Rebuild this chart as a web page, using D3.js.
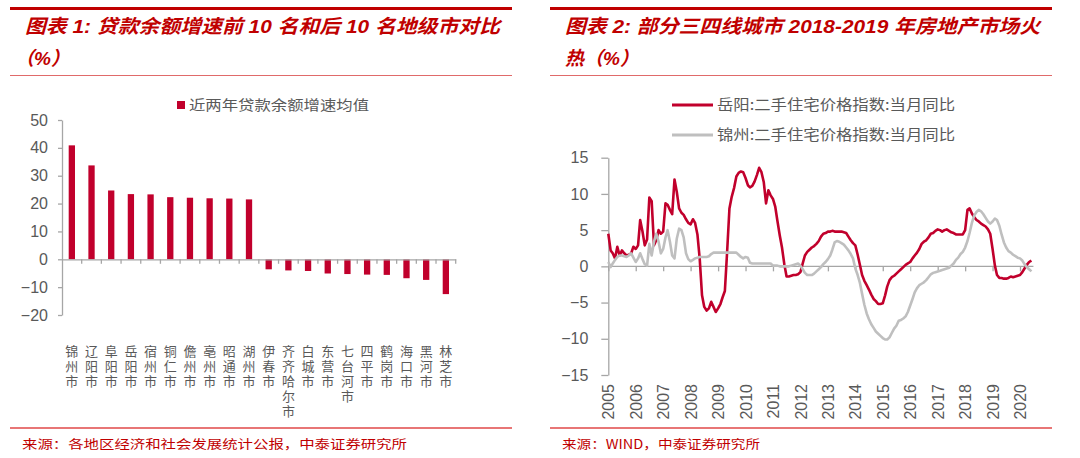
<!DOCTYPE html>
<html><head><meta charset="utf-8">
<script src="https://cdn.jsdelivr.net/npm/d3@7"></script>
<style>
html,body{margin:0;padding:0;background:#fff;}
svg{display:block;}
.vert{writing-mode:vertical-rl;text-orientation:upright;}
</style></head>
<body>
<svg id="chart" width="1080" height="458"></svg>
<script>
// ---------- data ----------
const cities = ["锦州市","辽阳市","阜阳市","岳阳市","宿州市","铜仁市","儋州市","亳州市","昭通市","湖州市",
  "伊春市","齐齐哈尔市","白城市","东营市","七台河市","四平市","鹤岗市","海口市","黑河市","林芝市"];
const loanGrowth = [40.9,33.7,24.7,23.4,23.3,22.3,22.1,21.9,21.8,21.5,
  -3.6,-4.0,-4.2,-5.1,-5.3,-5.5,-5.6,-6.8,-7.4,-12.5];
const leftTicks = [-20,-10,0,10,20,30,40,50];
const leftLegend = "近两年贷款余额增速均值";

const seriesStart = [2005, 0]; // Jan 2005, monthly
const yueyang = [
  4.5,2.2,1.8,1.1,2.7,1.5,2.2,1.8,1.5,1.6,1.8,2.7,
  2.4,2.9,6.4,4.8,2.9,3.7,9.5,9.0,2.9,3.6,5.0,4.5,
  4.8,8.7,8.5,7.8,7.2,12.0,10.3,8.0,7.4,7.1,6.5,6.0,
  5.8,6.5,6.0,4.4,1.1,-4.0,-5.6,-6.1,-5.8,-4.9,-5.6,-6.3,
  -5.8,-5.2,-4.3,-3.4,2.0,8.0,9.6,10.8,12.4,12.9,13.1,13.0,
  12.2,11.2,10.9,11.1,11.7,12.6,13.6,13.0,11.6,8.7,10.5,9.8,
  9.3,8.2,6.3,4.3,2.6,0.3,-1.4,-1.4,-1.3,-1.2,-1.2,-1.1,
  -0.8,0.4,1.5,2.0,2.3,2.6,2.8,3.1,3.5,4.1,4.5,4.6,
  4.8,4.8,4.9,4.8,4.8,4.8,4.8,4.7,4.6,4.1,3.6,3.2,
  2.9,1.6,0.3,-1.2,-2.0,-2.6,-3.2,-3.9,-4.5,-4.8,-5.2,-5.2,
  -5.1,-4.0,-2.8,-1.9,-1.5,-1.3,-1.0,-0.7,-0.4,-0.1,0.2,0.4,
  0.6,1.1,1.5,1.9,2.4,3.1,3.4,3.6,4.0,4.5,4.6,4.9,
  5.1,5.0,4.8,5.0,5.1,4.9,4.7,4.6,4.4,4.4,4.4,4.4,
  5.0,7.8,8.0,7.3,6.8,6.4,6.2,5.9,5.7,5.5,5.1,4.5,
  2.4,0.1,-1.2,-1.6,-1.6,-1.7,-1.7,-1.6,-1.4,-1.5,-1.4,-1.3,
  -1.2,-0.8,-0.3,0.2,0.6,0.8
];
const jinzhou = [
  0.6,-0.1,0.4,0.9,1.3,1.5,1.5,1.4,1.3,1.5,1.8,1.2,
  0.6,1.1,1.8,1.0,0.3,0.1,3.1,1.5,3.4,4.5,3.4,1.8,
  2.4,4.0,5.0,3.4,1.5,1.1,3.8,5.2,5.0,4.0,1.8,1.0,
  0.7,0.9,1.1,1.2,1.3,1.3,1.3,1.3,1.4,1.7,1.9,1.9,
  1.9,1.9,1.9,1.9,1.9,1.9,1.9,1.9,1.9,1.6,1.3,1.1,
  1.3,1.2,0.5,0.4,0.4,0.4,0.4,0.4,0.4,0.4,0.4,0.4,
  0.1,0.1,0.1,0.0,0.0,0.0,0.0,0.0,0.1,0.2,0.3,0.4,
  0.1,-0.4,-0.9,-1.2,-1.2,-1.2,-1.0,-0.7,-0.4,-0.1,0.3,0.6,
  1.0,1.5,2.3,3.3,3.5,3.4,3.2,3.0,2.6,2.2,1.7,1.1,
  -0.3,-1.2,-2.2,-3.8,-5.3,-6.5,-7.3,-8.0,-8.5,-9.0,-9.3,-9.6,
  -9.9,-10.1,-10.1,-9.8,-9.2,-8.6,-8.2,-7.5,-7.4,-7.2,-6.9,-6.3,
  -5.4,-4.5,-3.6,-3.0,-2.6,-2.4,-2.2,-1.9,-1.5,-1.1,-0.9,-0.8,
  -0.7,-0.6,-0.5,-0.4,-0.3,-0.2,0.1,0.4,0.9,1.2,1.7,2.0,
  2.6,3.5,4.6,6.0,7.0,7.5,7.8,7.6,7.2,6.7,6.2,5.9,
  6.2,6.6,6.4,5.6,4.4,3.3,2.6,2.1,1.9,1.6,1.4,1.2,
  1.1,0.8,0.3,-0.1,-0.4,-0.7
];
const seriesNames = ["岳阳:二手住宅价格指数:当月同比","锦州:二手住宅价格指数:当月同比"];
const rightTicks = [-15,-10,-5,0,5,10,15];
const yearLabels = ["2005","2006","2007","2008","2009","2010","2011","2012","2013","2014","2015","2016","2017","2018","2019","2020"];

const titles = {
  left: ["图表 1: 贷款余额增速前 10 名和后 10 名地级市对比", "（%）"],
  right: ["图表 2: 部分三四线城市 2018-2019 年房地产市场火", "热（%）"]
};
const sources = ["来源：各地区经济和社会发展统计公报，中泰证券研究所", "来源：WIND，中泰证券研究所"];

// ---------- style ----------
const RED = "#C1002C", TITLE_RED = "#C00000", GREY = "#BFBFBF", AXIS = "#A6A6A6", TXT = "#595959";
const CJK = "'Noto Sans CJK SC', sans-serif";
const LAT = "'Liberation Sans', Arial, 'Noto Sans CJK SC', sans-serif";

const svg = d3.select("#chart");

// ---------- frames / titles / sources ----------
function frame(x0, x1, tl, src, srcLen, t1Len, l2dx) {
  svg.append("line").attr("x1", x0).attr("x2", x1).attr("y1", 8.5).attr("y2", 8.5)
    .attr("stroke", TITLE_RED).attr("stroke-width", 3);
  svg.append("line").attr("x1", x0).attr("x2", x1).attr("y1", 75.5).attr("y2", 75.5)
    .attr("stroke", "#E06A6A").attr("stroke-width", 1);
  svg.append("line").attr("x1", x0).attr("x2", x1).attr("y1", 428).attr("y2", 428)
    .attr("stroke", "#E04848").attr("stroke-width", 1.5);
  svg.append("text").attr("x", x0 + 15).attr("y", 33).text(tl[0])
    .attr("font-family", LAT).attr("font-size", 19).attr("font-weight", "bold").attr("font-style", "italic")
    .attr("fill", TITLE_RED).attr("textLength", t1Len).attr("lengthAdjust", "spacingAndGlyphs");
  svg.append("text").attr("x", x0 + 15 + l2dx).attr("y", 65).text(tl[1])
    .attr("font-family", LAT).attr("font-size", 19).attr("font-weight", "bold").attr("font-style", "italic")
    .attr("fill", TITLE_RED);
  svg.append("text").attr("x", x0 + 12).attr("y", 449).text(src)
    .attr("font-family", CJK).attr("font-size", 12.5).attr("fill", TITLE_RED)
    .attr("textLength", srcLen).attr("lengthAdjust", "spacingAndGlyphs");
}
frame(10, 512, titles.left, sources[0], 385, 475, -10);
frame(550, 1052, titles.right, sources[1], 198, 475, 0);

// ---------- left bar chart ----------
const xB = d3.scaleBand().domain(cities).range([62, 455.7]).paddingInner(0.68).paddingOuter(0.34);
const yL = d3.scaleLinear().domain([-20, 50]).range([315, 120]);

svg.append("g").selectAll("rect").data(loanGrowth).join("rect")
  .attr("x", (d, i) => xB(cities[i]))
  .attr("width", xB.bandwidth())
  .attr("y", d => yL(Math.max(0, d)))
  .attr("height", d => Math.abs(yL(d) - yL(0)))
  .attr("fill", RED);

const gyL = svg.append("g").attr("transform", "translate(62,0)")
  .call(d3.axisLeft(yL).tickValues(leftTicks).tickSize(4).tickPadding(10).tickSizeOuter(0));
gyL.select(".domain").attr("stroke", AXIS).attr("stroke-width", 1.3);
gyL.selectAll(".tick line").attr("stroke", AXIS).attr("stroke-width", 1.3);
gyL.selectAll(".tick text").attr("font-family", LAT).attr("font-size", 16).attr("fill", TXT);

// x axis at zero with ticks on category boundaries
const gxL = svg.append("g").attr("transform", `translate(0,${yL(0)})`)
  .call(d3.axisBottom(xB).tickSize(0).tickFormat(""));
gxL.select(".domain").attr("stroke", AXIS).attr("stroke-width", 1.3);
const r0 = xB.range()[0], stp = xB.step();
gxL.selectAll(".bnd").data(d3.range(1, cities.length + 1)).join("line")
  .attr("x1", i => r0 + i * stp).attr("x2", i => r0 + i * stp)
  .attr("y1", 0).attr("y2", 4.5).attr("stroke", AXIS).attr("stroke-width", 1.3);

// vertical category labels (single text each, vertical writing mode)
svg.append("g").selectAll("text").data(cities).join("text")
  .attr("class", "vert")
  .attr("x", c => xB(c) + xB.bandwidth() / 2)
  .attr("y", 345)
  .attr("font-family", CJK).attr("font-size", 13).attr("fill", TXT)
  .attr("letter-spacing", 2)
  .text(c => c);

// legend
svg.append("rect").attr("x", 177).attr("y", 101).attr("width", 8).attr("height", 8).attr("fill", RED);
svg.append("text").attr("x", 189).attr("y", 110).text(leftLegend)
  .attr("font-family", CJK).attr("font-size", 13.5).attr("fill", TXT)
  .attr("textLength", 180).attr("lengthAdjust", "spacingAndGlyphs");

// ---------- right line chart ----------
const start = new Date(seriesStart[0], seriesStart[1], 1);
const dates = yueyang.map((d, i) => d3.timeMonth.offset(start, i));
const yearDates = yearLabels.map(y => new Date(+y, 0, 1));
const xT = d3.scaleTime().domain([yearDates[0], yearDates[yearDates.length - 1]]).range([608.3, 1020]);
const yR = d3.scaleLinear().domain([-15, 15]).range([375, 157.7]);

const gyR = svg.append("g").attr("transform", "translate(608.3,0)")
  .call(d3.axisLeft(yR).tickValues(rightTicks).tickSize(7).tickPadding(13).tickSizeOuter(0));
gyR.select(".domain").attr("stroke", AXIS).attr("stroke-width", 1.3);
gyR.selectAll(".tick line").attr("stroke", AXIS).attr("stroke-width", 1.3);
gyR.selectAll(".tick text").attr("font-family", LAT).attr("font-size", 16).attr("fill", TXT);

const y0 = yR(0);
const gxR = svg.append("g").attr("transform", `translate(0,${y0})`)
  .call(d3.axisBottom(xT).tickValues(yearDates).tickSize(5).tickSizeOuter(0).tickFormat((d, i) => yearLabels[i]));
gxR.select(".domain").remove();
gxR.append("line").attr("x1", xT(yearDates[0])).attr("x2", xT(dates[dates.length - 1]) + 2)
  .attr("y1", 0).attr("y2", 0).attr("stroke", AXIS).attr("stroke-width", 1.3);
gxR.selectAll(".tick line").attr("stroke", AXIS).attr("stroke-width", 1.3);
gxR.selectAll(".tick text")
  .attr("font-family", LAT).attr("font-size", 16).attr("fill", TXT)
  .attr("text-anchor", "end").attr("x", 0).attr("y", 0).attr("dy", "0.35em")
  .attr("transform", `translate(0,${384 - y0}) rotate(-90)`);

const line = d3.line().x((d, i) => xT(dates[i])).y(d => yR(d));
svg.append("path").datum(yueyang).attr("d", line).attr("fill", "none")
  .attr("stroke", RED).attr("stroke-width", 2.6).attr("stroke-linejoin", "round");
svg.append("path").datum(jinzhou).attr("d", line).attr("fill", "none")
  .attr("stroke", GREY).attr("stroke-width", 2.6).attr("stroke-linejoin", "round");

// legend
[[RED, 105], [GREY, 135]].forEach(([col, yy], i) => {
  svg.append("line").attr("x1", 672).attr("x2", 713).attr("y1", yy).attr("y2", yy)
    .attr("stroke", col).attr("stroke-width", 3);
  svg.append("text").attr("x", 717).attr("y", yy + 5).text(seriesNames[i])
    .attr("font-family", CJK).attr("font-size", 14.5).attr("fill", TXT)
    .attr("textLength", 238).attr("lengthAdjust", "spacingAndGlyphs");
});
</script>
</body></html>
